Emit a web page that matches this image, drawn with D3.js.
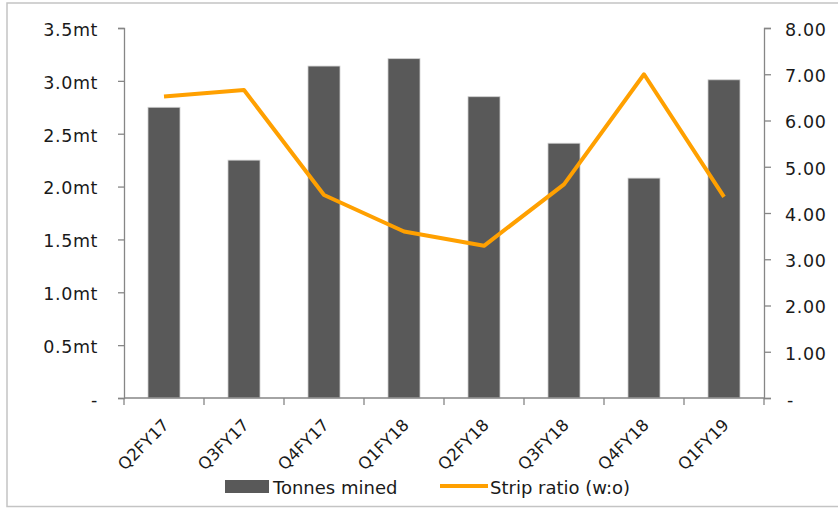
<!DOCTYPE html>
<html>
<head>
<meta charset="utf-8">
<script src="https://cdn.jsdelivr.net/npm/d3@7"></script>
<style>
  html, body { margin: 0; padding: 0; background: #fff; }
  svg { display: block; }
  text { font-family: "DejaVu Sans", Verdana, sans-serif; fill: #1a1a1a; }
</style>
</head>
<body>
<svg id="chart" width="838" height="508"></svg>
<script>
const categories = ["Q2FY17", "Q3FY17", "Q4FY17", "Q1FY18", "Q2FY18", "Q3FY18", "Q4FY18", "Q1FY19"];
const tonnesMined = [2.75, 2.25, 3.14, 3.21, 2.85, 2.41, 2.08, 3.01];
const stripRatio = [6.52, 6.66, 4.39, 3.60, 3.29, 4.62, 7.00, 4.35];
const leftTicks = [0, 0.5, 1.0, 1.5, 2.0, 2.5, 3.0, 3.5];
const leftTickLabels = ["-", "0.5mt", "1.0mt", "1.5mt", "2.0mt", "2.5mt", "3.0mt", "3.5mt"];
const rightTicks = [0, 1, 2, 3, 4, 5, 6, 7, 8];
const rightTickLabels = ["-", "1.00", "2.00", "3.00", "4.00", "5.00", "6.00", "7.00", "8.00"];
const seriesNames = ["Tonnes mined", "Strip ratio (w:o)"];

(function () {
const svg = d3.select("#chart");
const axisColor = "#868686";
const barColor = "#595959";
const lineColor = "#FFA000";

// outer border
svg.append("rect").attr("x", 7).attr("y", 3).attr("width", 840).attr("height", 503.5)
  .attr("fill", "none").attr("stroke", "#c4c4c4").attr("stroke-width", 1.5);

const pL = 124, pR = 764, pT = 28, pB = 398;

const x = d3.scaleBand().domain(categories).range([pL, pR]).paddingInner(0).paddingOuter(0);
const yL = d3.scaleLinear().domain([0, 3.5]).range([pB, pT]);
const yR = d3.scaleLinear().domain([0, 8]).range([pB, pT]);

// bars
const barW = x.bandwidth() * 0.4;
svg.append("g").selectAll("rect").data(tonnesMined).join("rect")
  .attr("x", (d, i) => x(categories[i]) + x.bandwidth() / 2 - barW / 2)
  .attr("y", d => yL(d))
  .attr("width", barW)
  .attr("height", d => yL(0) - yL(d))
  .attr("fill", barColor)
  .attr("stroke", "#d0d0d0").attr("stroke-width", 0.8);

// left axis
const gL = svg.append("g").attr("transform", `translate(${pL},0)`)
  .call(d3.axisLeft(yL).tickValues(leftTicks).tickSize(6).tickPadding(20)
    .tickFormat((d, i) => leftTickLabels[i]));
// right axis
const gR = svg.append("g").attr("transform", `translate(${pR},0)`)
  .call(d3.axisRight(yR).tickValues(rightTicks).tickSize(7).tickPadding(14)
    .tickFormat((d, i) => rightTickLabels[i]));
[gL, gR].forEach(g => {
  g.select(".domain").attr("stroke", axisColor).attr("stroke-width", 1.3);
  g.selectAll(".tick line").attr("stroke", axisColor).attr("stroke-width", 1.3);
  g.selectAll("text").attr("font-size", 17.5).attr("letter-spacing", 0.6).attr("fill", "#1a1a1a")
    .attr("font-family", '"DejaVu Sans", Verdana, sans-serif').attr("dy", "0.42em");
});
gR.selectAll(".tick text").filter(d => d === 0).attr("x", 23);

// x axis with ticks at band boundaries
const gX = svg.append("g");
gX.append("line").attr("x1", pL).attr("x2", pR).attr("y1", pB).attr("y2", pB)
  .attr("stroke", axisColor).attr("stroke-width", 1.3);
const bounds = categories.map(c => x(c)).concat([pR]);
gX.selectAll("line.t").data(bounds).join("line").attr("class", "t")
  .attr("x1", d => d).attr("x2", d => d).attr("y1", pB).attr("y2", pB + 7)
  .attr("stroke", axisColor).attr("stroke-width", 1.3);
gX.selectAll("text").data(categories).join("text")
  .attr("transform", d => `translate(${x(d) + x.bandwidth() / 2 + 6},${pB + 28}) rotate(-45)`)
  .attr("text-anchor", "end")
  .attr("font-size", 16.5)
  .text(d => d);

// line
const line = d3.line().x((d, i) => x(categories[i]) + x.bandwidth() / 2).y(d => yR(d));
svg.append("path").datum(stripRatio).attr("d", line)
  .attr("fill", "none").attr("stroke", lineColor).attr("stroke-width", 4)
  .attr("stroke-linejoin", "round").attr("stroke-linecap", "butt");

// legend
const lg = svg.append("g");
lg.append("rect").attr("x", 225).attr("y", 480).attr("width", 44).attr("height", 13).attr("fill", barColor);
lg.append("text").attr("x", 273).attr("y", 494).attr("font-size", 18).text(seriesNames[0]);
lg.append("line").attr("x1", 440).attr("x2", 488).attr("y1", 486).attr("y2", 486)
  .attr("stroke", lineColor).attr("stroke-width", 4);
lg.append("text").attr("x", 490).attr("y", 494).attr("font-size", 18).text(seriesNames[1]);
})();
</script>
</body>
</html>
